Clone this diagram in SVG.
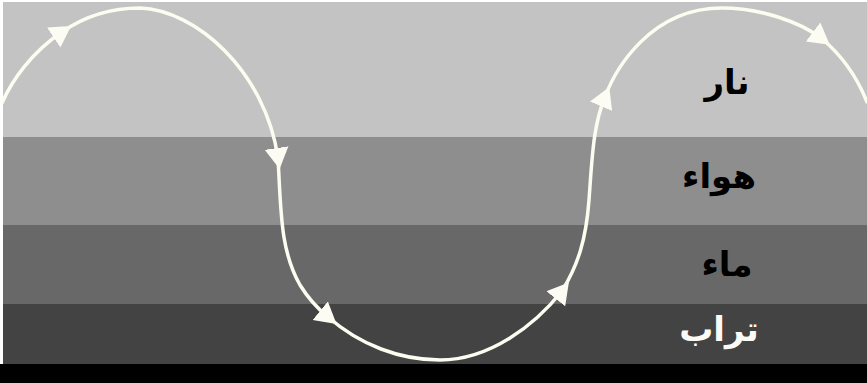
<svg xmlns="http://www.w3.org/2000/svg" width="867" height="383" viewBox="0 0 867 383">
  <style>
    .lbl { font-family: "DejaVu Sans", "Noto Sans", sans-serif; font-weight: bold; font-size: 34px; text-anchor: middle; }
    .dark { fill: #000000; }
    .light { fill: #fbfbf6; }
    .curve { fill: none; stroke: #fdfcf0; stroke-width: 3.5; stroke-linecap: round; }
  </style>
  <defs>
    <marker id="arrow" markerUnits="userSpaceOnUse" markerWidth="26" markerHeight="28" refX="10" refY="13" orient="auto" viewBox="0 0 26 28">
      <path d="M0,1 L21,13 L0,25 z" fill="#fdfcf4"/>
    </marker>
  </defs>
  <rect x="0" y="0" width="867" height="383" fill="#ffffff"/>
  <g id="fire">
    <rect x="3" y="2" width="864" height="135" fill="#c3c3c3"/>
    <text class="lbl dark" x="727" y="94">نار</text>
  </g>
  <g id="air">
    <rect x="3" y="137" width="864" height="88" fill="#8e8e8e"/>
    <text class="lbl dark" x="719" y="188">هواء</text>
  </g>
  <g id="water">
    <rect x="3" y="225" width="864" height="79" fill="#686868"/>
    <text class="lbl dark" x="727" y="276">ماء</text>
  </g>
  <g id="earth">
    <rect x="3" y="304" width="864" height="60" fill="#434343"/>
    <text class="lbl light" x="719" y="341">تراب</text>
  </g>
  <rect x="0" y="364" width="867" height="19" fill="#000000"/>
  <g id="connectors">
    <path class="curve" marker-end="url(#arrow)" d="M2,103 C 12,80 32,52 62,32"/>
    <path class="curve" marker-end="url(#arrow)" d="M62,32 C 85,16 110,8 140,8 C 195,10 265,70 278,158"/>
    <path class="curve" marker-end="url(#arrow)" d="M278,158 C 281,210 280,250 300,285 C 308,298 317,308 328,317"/>
    <path class="curve" marker-end="url(#arrow)" d="M328,317 C 360,345 400,360 440,360 C 490,360 535,325 562,291"/>
    <path class="curve" marker-end="url(#arrow)" d="M562,291 C 578,265 586,240 589,200 C 592,160 593,125 605,97"/>
    <path class="curve" marker-end="url(#arrow)" d="M605,97 C 615,70 650,8 722,8 C 760,8 800,22 821,38"/>
    <path class="curve" d="M821,38 C 838,52 855,72 867,102"/>
  </g>
</svg>
